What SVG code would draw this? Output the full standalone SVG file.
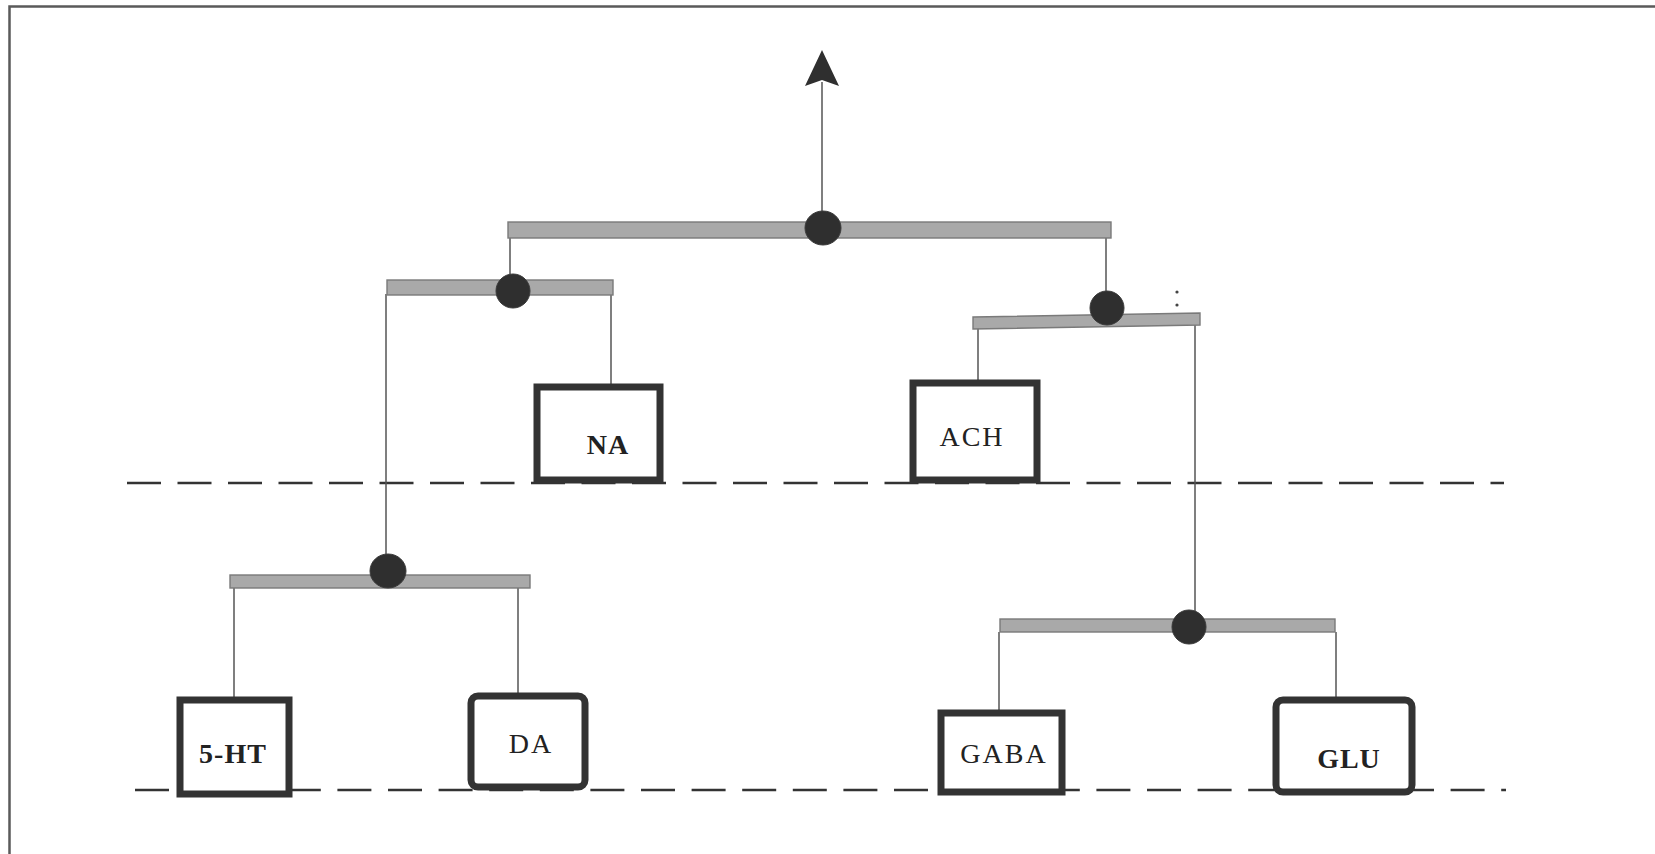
<svg xmlns="http://www.w3.org/2000/svg" width="1655" height="854" viewBox="0 0 1655 854">
  <style>
    .frame { stroke: #5a5a5a; stroke-width: 2.5; fill: none; }
    .bar { fill: #a9a9a9; stroke: #7a7a7a; stroke-width: 1.4; }
    .joint { fill: #2f2f2f; stroke: #3a3a3a; stroke-width: 1; }
    .wire { stroke: #555; stroke-width: 1.5; fill: none; }
    .level { stroke: #333; stroke-width: 2.5; fill: none; stroke-dasharray: 34 16.5; }
    .box { fill: #ffffff; stroke: #333; stroke-width: 7; }
    .lbl { font-family: "Liberation Serif", "Times New Roman", serif; font-size: 28px; fill: #222; text-anchor: middle; letter-spacing: 2px; }
    .b { font-weight: bold; letter-spacing: 1px; }
  </style>
  <rect width="1655" height="854" fill="#ffffff"/>
  <!-- frame -->
  <path class="frame" d="M9.5 854 V6.5 H1655"/>

  <!-- level lines -->
  <g id="levels">
    <line class="level" x1="127" y1="483" x2="1504" y2="483"/>
    <line class="level" x1="135" y1="790" x2="1506" y2="790" style="stroke-dasharray:34 16.6"/>
  </g>

  <!-- connectors -->
  <g id="connectors">
    <line class="wire" x1="822" y1="228" x2="822" y2="82"/>
    <polygon points="805,86 822,50 839,86 822,80" fill="#2f2f2f"/>
    <line class="wire" x1="510" y1="238" x2="510" y2="281"/>
    <line class="wire" x1="1106" y1="238" x2="1106" y2="292"/>
    <line class="wire" x1="386" y1="294" x2="386" y2="571"/>
    <line class="wire" x1="611" y1="294" x2="611" y2="384"/>
    <line class="wire" x1="978" y1="328" x2="978" y2="380"/>
    <line class="wire" x1="1195" y1="325" x2="1195" y2="626"/>
    <line class="wire" x1="234" y1="588" x2="234" y2="697"/>
    <line class="wire" x1="518" y1="588" x2="518" y2="693"/>
    <line class="wire" x1="999" y1="632" x2="999" y2="710"/>
    <line class="wire" x1="1336" y1="632" x2="1336" y2="697"/>
  </g>

  <!-- junctions -->
  <g id="junction-top">
    <rect class="bar" x="508" y="222" width="603" height="16"/>
    <ellipse class="joint" cx="823" cy="228" rx="18" ry="17"/>
  </g>
  <g id="junction-left">
    <rect class="bar" x="387" y="280" width="226" height="15"/>
    <ellipse class="joint" cx="513" cy="291" rx="17" ry="17"/>
  </g>
  <g id="junction-right">
    <polygon class="bar" points="973,317 1200,313 1200,325 973,329"/>
    <ellipse class="joint" cx="1107" cy="308" rx="17" ry="17"/>
    <circle cx="1177" cy="292" r="1.6" fill="#444"/>
    <circle cx="1177" cy="305" r="1.6" fill="#444"/>
  </g>
  <g id="junction-lower-left">
    <rect class="bar" x="230" y="575" width="300" height="13"/>
    <ellipse class="joint" cx="388" cy="571" rx="18" ry="17"/>
  </g>
  <g id="junction-lower-right">
    <rect class="bar" x="1000" y="619" width="335" height="13"/>
    <ellipse class="joint" cx="1189" cy="627" rx="17" ry="17"/>
  </g>

  <!-- nodes -->
  <g id="node-NA">
    <rect class="box" x="537" y="387" width="123" height="93"/>
    <text class="lbl b" x="608" y="454">NA</text>
  </g>
  <g id="node-ACH">
    <rect class="box" x="913" y="383" width="124" height="97"/>
    <text class="lbl" x="972" y="446">ACH</text>
  </g>
  <g id="node-5HT">
    <rect class="box" x="180" y="700" width="109" height="94"/>
    <text class="lbl b" x="233" y="763">5-HT</text>
  </g>
  <g id="node-DA">
    <rect class="box" x="471" y="696" width="114" height="91" rx="7"/>
    <text class="lbl" x="531" y="753">DA</text>
  </g>
  <g id="node-GABA">
    <rect class="box" x="941" y="713" width="121" height="79"/>
    <text class="lbl" x="1004" y="763">GABA</text>
  </g>
  <g id="node-GLU">
    <rect class="box" x="1276" y="700" width="136" height="92" rx="7"/>
    <text class="lbl b" x="1349" y="768">GLU</text>
  </g>
</svg>
